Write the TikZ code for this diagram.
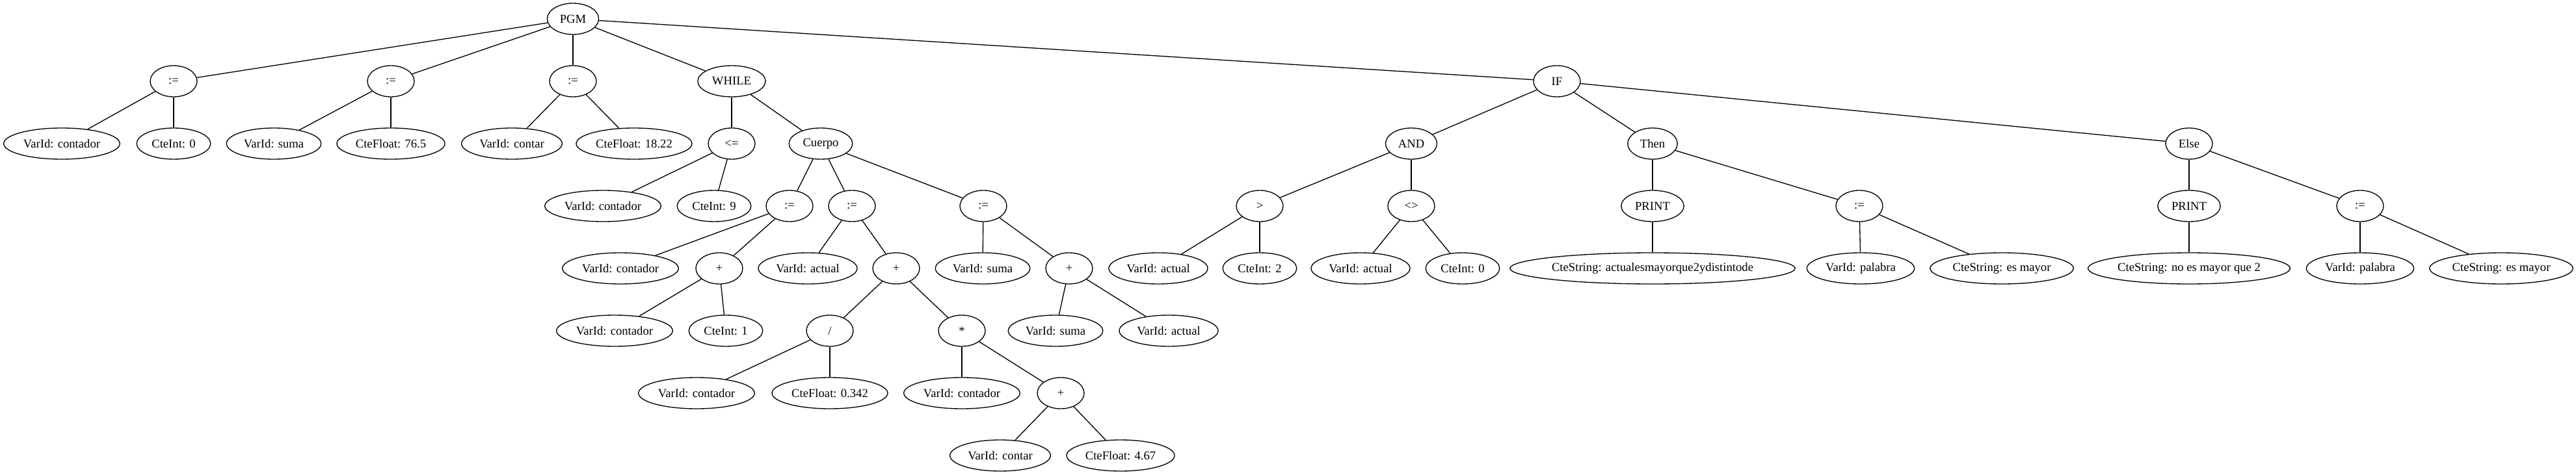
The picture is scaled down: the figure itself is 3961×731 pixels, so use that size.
\documentclass[tikz,border=0pt]{standalone}
\usepackage{fontspec}
\setmainfont{Liberation Serif}
\usetikzlibrary{shapes.geometric}

% Style of the tree nodes: an ellipse as wide as its label
\tikzset{
  ast/.style={draw, ellipse, line width=1pt, inner sep=0pt,
    minimum height=36pt,
    minimum width={max(54pt,1.28*(width("#1")+16pt))},
    node contents={#1}},
  edge/.style={line width=1pt}
}

\begin{document}
\begin{tikzpicture}[x=0.75pt, y=-0.75pt]

  % Size of the whole picture
  \useasboundingbox (0,0) rectangle (3961,731);
  \fontsize{14pt}{17pt}\selectfont

  % Define the root
  \node (PGM) at (881,29) [ast={PGM}];

  % Define the first level
  \node (A1) at (267,125) [ast={:=}];
  \node (A2) at (601,125) [ast={:=}];
  \node (A3) at (881,125) [ast={:=}];
  \node (W) at (1125,125) [ast={WHILE}];
  \node (I) at (2394,125) [ast={IF}];

  % Define the second level
  \node (V1) at (95,221) [ast={VarId: contador}];
  \node (C1) at (267,221) [ast={CteInt: 0}];
  \node (V2) at (421,221) [ast={VarId: suma}];
  \node (F1) at (601,221) [ast={CteFloat: 76.5}];
  \node (V3) at (787,221) [ast={VarId: contar}];
  \node (F2) at (975,221) [ast={CteFloat: 18.22}];
  \node (LE) at (1125,221) [ast={<=}];
  \node (CU) at (1262,221) [ast={Cuerpo}];
  \node (AND) at (2170,221) [ast={AND}];
  \node (TH) at (2541,221) [ast={Then}];
  \node (EL) at (3366,221) [ast={Else}];

  % Define the third level
  \node (V4) at (927,317) [ast={VarId: contador}];
  \node (C2) at (1098,317) [ast={CteInt: 9}];
  \node (A4) at (1214,317) [ast={:=}];
  \node (A5) at (1310,317) [ast={:=}];
  \node (A6) at (1512,317) [ast={:=}];
  \node (GT) at (1937,317) [ast={>}];
  \node (NE) at (2170,317) [ast={<>}];
  \node (P1) at (2541,317) [ast={PRINT}];
  \node (A7) at (2859,317) [ast={:=}];
  \node (P2) at (3366,317) [ast={PRINT}];
  \node (A8) at (3629,317) [ast={:=}];

  % Define the fourth level
  \node (V5) at (954,413) [ast={VarId: contador}];
  \node (S1) at (1106,413) [ast={+}];
  \node (V6) at (1242,413) [ast={VarId: actual}];
  \node (S2) at (1378,413) [ast={+}];
  \node (V7) at (1511,413) [ast={VarId: suma}];
  \node (S3) at (1644,413) [ast={+}];
  \node (V8) at (1781,413) [ast={VarId: actual}];
  \node (C3) at (1937,413) [ast={CteInt: 2}];
  \node (V9) at (2092,413) [ast={VarId: actual}];
  \node (C4) at (2249,413) [ast={CteInt: 0}];
  \node (T1) at (2541,413) [ast={CteString: actualesmayorque2ydistintode}];
  \node (V10) at (2861,413) [ast={VarId: palabra}];
  \node (T2) at (3078,413) [ast={CteString: es mayor}];
  \node (T3) at (3366,413) [ast={CteString: no es mayor que 2}];
  \node (V11) at (3629,413) [ast={VarId: palabra}];
  \node (T4) at (3846,413) [ast={CteString: es mayor}];

  % Define the fifth level
  \node (V12) at (945,509) [ast={VarId: contador}];
  \node (C5) at (1116,509) [ast={CteInt: 1}];
  \node (D) at (1276,509) [ast={/}];
  \node (M) at (1479,509) [ast={*}];
  \node (V13) at (1623,509) [ast={VarId: suma}];
  \node (V14) at (1797,509) [ast={VarId: actual}];

  % Define the sixth level
  \node (V15) at (1071,605) [ast={VarId: contador}];
  \node (F3) at (1276,605) [ast={CteFloat: 0.342}];
  \node (V16) at (1479,605) [ast={VarId: contador}];
  \node (S4) at (1631,605) [ast={+}];

  % Define the seventh level
  \node (V17) at (1538,701) [ast={VarId: contar}];
  \node (F4) at (1723,701) [ast={CteFloat: 4.67}];

  % Draw the edges from the root
  \draw[edge] (PGM) -- (A1);
  \draw[edge] (PGM) -- (A2);
  \draw[edge] (PGM) -- (A3);
  \draw[edge] (PGM) -- (W);
  \draw[edge] (PGM) -- (I);

  % Draw the edges of the assignments
  \draw[edge] (A1) -- (V1);
  \draw[edge] (A1) -- (C1);
  \draw[edge] (A2) -- (V2);
  \draw[edge] (A2) -- (F1);
  \draw[edge] (A3) -- (V3);
  \draw[edge] (A3) -- (F2);

  % Draw the edges of the loop
  \draw[edge] (W) -- (LE);
  \draw[edge] (W) -- (CU);
  \draw[edge] (LE) -- (V4);
  \draw[edge] (LE) -- (C2);
  \draw[edge] (CU) -- (A4);
  \draw[edge] (CU) -- (A5);
  \draw[edge] (CU) -- (A6);
  \draw[edge] (A4) -- (V5);
  \draw[edge] (A4) -- (S1);
  \draw[edge] (S1) -- (V12);
  \draw[edge] (S1) -- (C5);
  \draw[edge] (A5) -- (V6);
  \draw[edge] (A5) -- (S2);
  \draw[edge] (S2) -- (D);
  \draw[edge] (S2) -- (M);
  \draw[edge] (D) -- (V15);
  \draw[edge] (D) -- (F3);
  \draw[edge] (M) -- (V16);
  \draw[edge] (M) -- (S4);
  \draw[edge] (S4) -- (V17);
  \draw[edge] (S4) -- (F4);
  \draw[edge] (A6) -- (V7);
  \draw[edge] (A6) -- (S3);
  \draw[edge] (S3) -- (V13);
  \draw[edge] (S3) -- (V14);

  % Draw the edges of the condition
  \draw[edge] (I) -- (AND);
  \draw[edge] (I) -- (TH);
  \draw[edge] (I) -- (EL);
  \draw[edge] (AND) -- (GT);
  \draw[edge] (AND) -- (NE);
  \draw[edge] (GT) -- (V8);
  \draw[edge] (GT) -- (C3);
  \draw[edge] (NE) -- (V9);
  \draw[edge] (NE) -- (C4);

  % Draw the edges of the branches
  \draw[edge] (TH) -- (P1);
  \draw[edge] (TH) -- (A7);
  \draw[edge] (P1) -- (T1);
  \draw[edge] (A7) -- (V10);
  \draw[edge] (A7) -- (T2);
  \draw[edge] (EL) -- (P2);
  \draw[edge] (EL) -- (A8);
  \draw[edge] (P2) -- (T3);
  \draw[edge] (A8) -- (V11);
  \draw[edge] (A8) -- (T4);

\end{tikzpicture}
\end{document}
